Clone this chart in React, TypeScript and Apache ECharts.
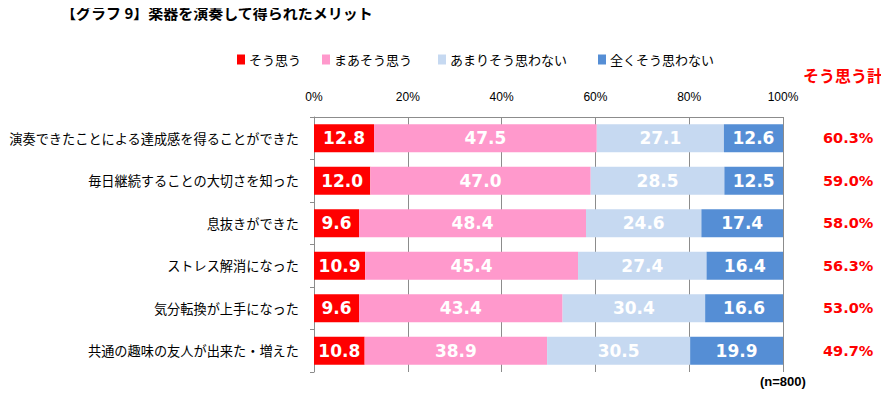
import React, { useEffect, useRef } from "react";
import * as echarts from "echarts";

const categories = [
  "演奏できたことによる達成感を得ることができた",
  "毎日継続することの大切さを知った",
  "息抜きができた",
  "ストレス解消になった",
  "気分転換が上手になった",
  "共通の趣味の友人が出来た・増えた",
];
const seriesNames = ["そう思う", "まあそう思う", "あまりそう思わない", "全くそう思わない"];
const soOmou = [12.8, 12.0, 9.6, 10.9, 9.6, 10.8];
const maaSoOmou = [47.5, 47.0, 48.4, 45.4, 43.4, 38.9];
const amariSoOmowanai = [27.1, 28.5, 24.6, 27.4, 30.4, 30.5];
const mattakuSoOmowanai = [12.6, 12.5, 17.4, 16.4, 16.6, 19.9];
const totals = ["60.3%", "59.0%", "58.0%", "56.3%", "53.0%", "49.7%"];
const xTicks = [0, 20, 40, 60, 80, 100];
const colors = ["#FF0000", "#FF99CC", "#C6D9F1", "#558ED5"];
const legendLefts = [237, 322, 438, 598];

const JP = '"Noto Sans CJK JP", "Noto Sans", sans-serif';

export default function App() {
  const ref = useRef<HTMLDivElement>(null);
  useEffect(() => {
    if (!ref.current) return;
    const chart = echarts.init(ref.current, null, { renderer: "svg" });
    const values = [soOmou, maaSoOmou, amariSoOmowanai, mattakuSoOmowanai];
    chart.setOption({
      animation: false,
      legend: seriesNames.map((n, i) => ({
        data: [n],
        left: legendLefts[i],
        top: 53,
        icon: "rect",
        itemWidth: 8,
        itemHeight: 10,
        itemGap: 0,
        padding: 0,
        selectedMode: false,
        textStyle: { fontFamily: JP, fontSize: 13, color: "#000", padding: [0, 0, 0, -1] },
      })),
      graphic: [
        {
          type: "text",
          left: 61,
          top: 5,
          style: { text: "【グラフ 9】楽器を演奏して得られたメリット", fontFamily: JP, fontSize: 15, fontWeight: "bold", fill: "#000" },
        },
        {
          type: "text",
          left: 803,
          top: 67,
          style: { text: "そう思う計", fontFamily: JP, fontSize: 16, fontWeight: "bold", fill: "#FF0000" },
        },
        {
          type: "text",
          left: 760,
          top: 375,
          style: { text: "(n=800)", fontFamily: '"Liberation Sans", sans-serif', fontSize: 13, fontWeight: "bold", fill: "#000" },
        },
      ],
      grid: { left: 314, right: 106, top: 117, bottom: 30, containLabel: false },
      xAxis: {
        type: "value",
        position: "top",
        min: 0,
        max: 100,
        interval: 20,
        axisLine: { show: true, lineStyle: { color: "#8c8c8c" } },
        axisTick: { show: false },
        splitLine: { show: true, lineStyle: { color: "#8c8c8c" } },
        axisLabel: {
          margin: 14,
          fontFamily: '"Liberation Sans", sans-serif',
          fontSize: 12,
          color: "#000",
          formatter: (v: number) => (xTicks.includes(v) ? v + "%" : ""),
        },
      },
      yAxis: [
        {
          type: "category",
          data: categories,
          inverse: true,
          axisLine: { show: true, lineStyle: { color: "#8c8c8c" } },
          axisTick: { show: true, length: 4, lineStyle: { color: "#8c8c8c" } },
          axisLabel: { margin: 15, fontFamily: JP, fontSize: 13.2, color: "#000" },
        },
        {
          type: "category",
          data: totals,
          inverse: true,
          position: "right",
          axisLine: { show: false },
          axisTick: { show: false },
          axisLabel: {
            margin: 40,
            fontFamily: '"DejaVu Sans", sans-serif',
            fontSize: 14.5,
            fontWeight: "bold",
            color: "#FF0000",
          },
        },
      ],
      series: values.map((arr, i) => ({
        name: seriesNames[i],
        type: "bar",
        stack: "total",
        barWidth: 28,
        data: arr,
        itemStyle: { color: colors[i] },
        label: {
          show: true,
          position: "inside",
          color: "#fff",
          fontFamily: '"DejaVu Sans", sans-serif',
          fontWeight: "bold",
          fontSize: 17,
          formatter: (p: any) => Number(p.value).toFixed(1),
        },
      })),
    });
    return () => chart.dispose();
  }, []);
  return <div ref={ref} style={{ width: 889, height: 402, margin: -8 }} />;
}
